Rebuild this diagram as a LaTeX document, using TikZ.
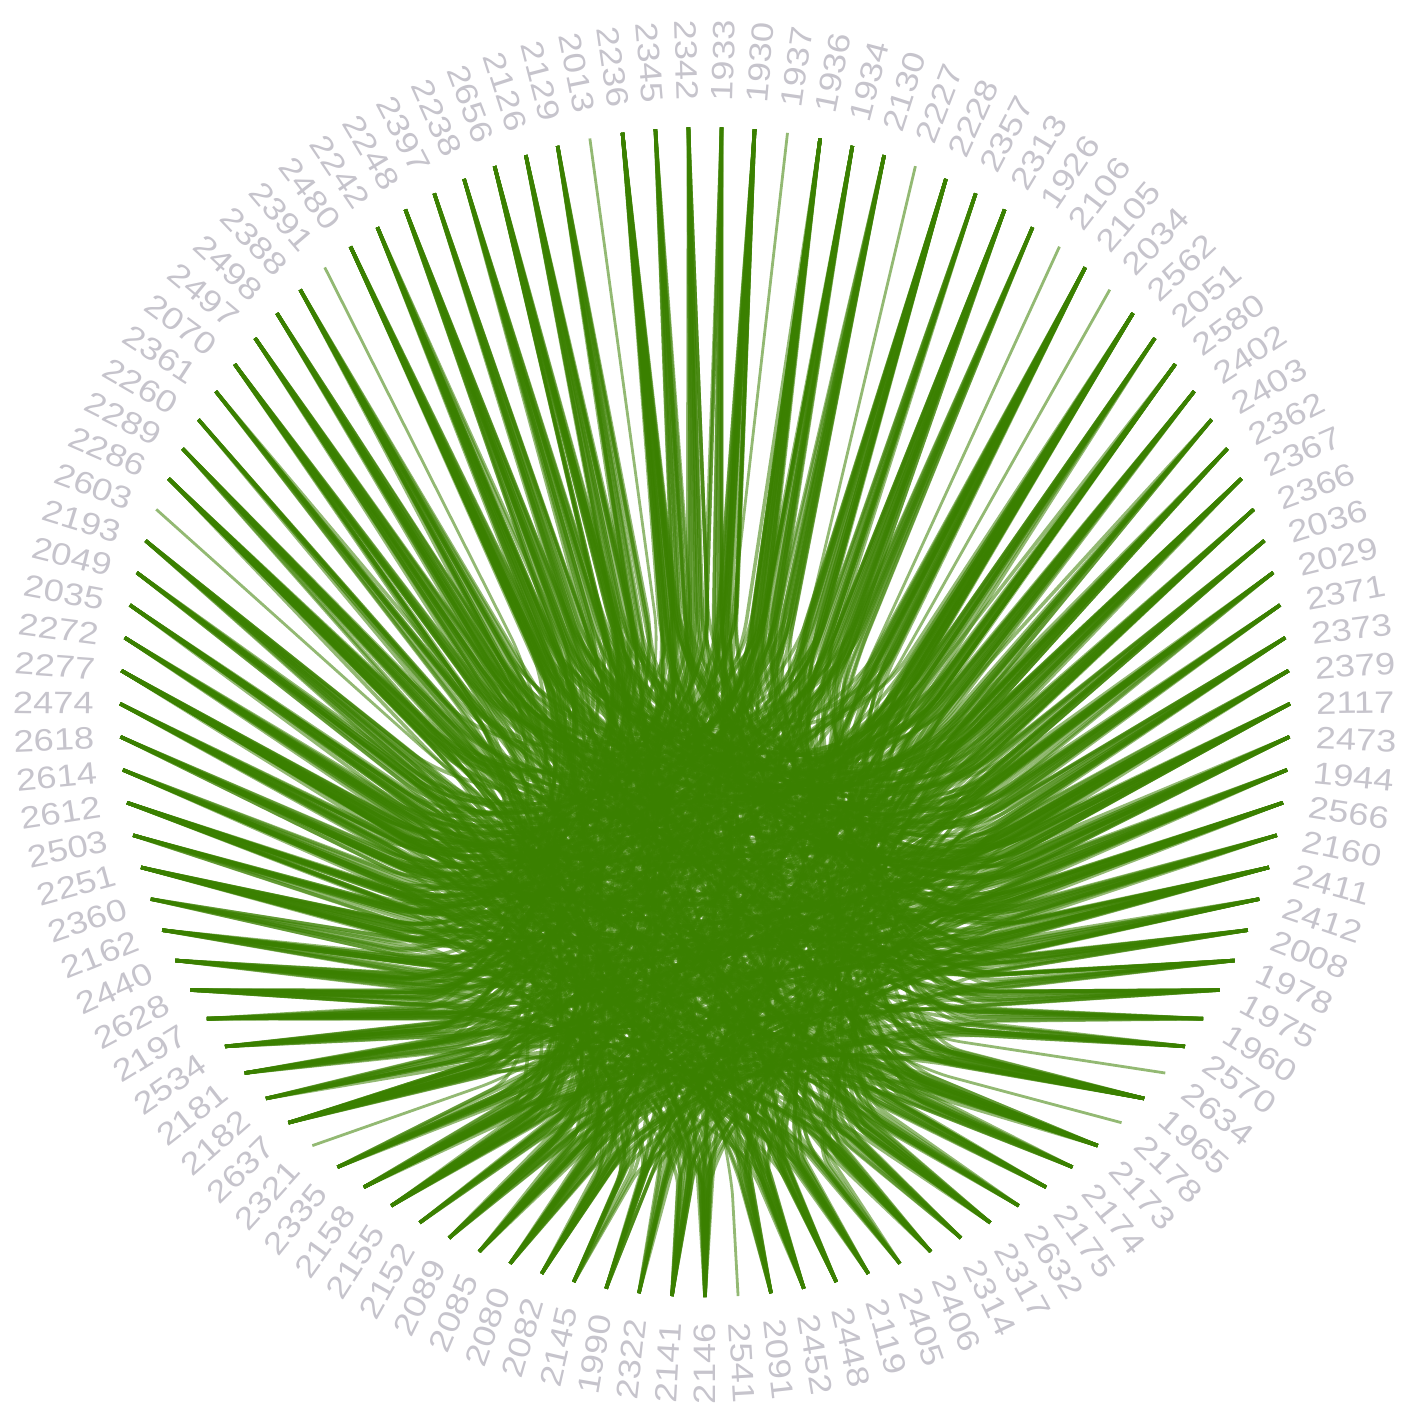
\documentclass[tikz,border=0pt]{standalone}
\usepackage{fontspec}
\usetikzlibrary{calc}
\newfontfamily\lblfont{Liberation Sans}[FakeStretch=1.17]
\definecolor{edgegreen}{RGB}{58,128,0}
\definecolor{lblgray}{RGB}{198,196,204}
\makeatletter
\newcommand\setlightflag[1]{\edef\tmp@lt{,#1,}\expandafter\in@\expandafter{\tmp@lt}{,2,6,11,13,39,41,54,68,89,98,107,}\ifin@\def\isLt{1}\else\def\isLt{0}\fi}
\makeatother
\begin{document}
\begin{tikzpicture}[x=0.5pt,y=0.5pt,
  edge/.style={draw=edgegreen, line width=1.75pt, draw opacity=0.55},
  lightedge/.style={draw=edgegreen, line width=1.4pt, draw opacity=0.55},
  lbl/.style={text=lblgray, font=\lblfont\fontsize{15.5pt}{18pt}\selectfont, inner sep=0pt}]
\useasboundingbox (-705,-708) rectangle (708,712);
\coordinate (F) at (0,-294);
% node positions and labels
\foreach \lab [count=\k from 0] in {1933,1930,1937,1936,1934,2130,2227,2228,2357,2313,1926,2106,2105,2034,2562,2051,2580,2402,2403,2362,2367,2366,2036,2029,2371,2373,2379,2117,2473,1944,2566,2160,2411,2412,2008,1978,1975,1960,2570,2634,1965,2178,2173,2174,2175,2632,2317,2314,2406,2405,2119,2448,2452,2091,2541,2146,2141,2322,1990,2145,2082,2080,2085,2089,2152,2155,2158,2335,2321,2637,2182,2181,2534,2197,2628,2440,2162,2360,2251,2503,2612,2614,2618,2474,2277,2272,2035,2049,2193,2603,2286,2289,2260,2361,2070,2497,2498,2388,2391,2480,2242,2248,2397,2238,2656,2126,2129,2013,2236,2345,2342}{
  \pgfmathsetmacro\ang{90-(\k+0.5)*3.243243}
  \coordinate (p\k) at (\ang:585);
  \ifnum\k<55
    \node[lbl, anchor=west, rotate=\ang] (t\k) at (\ang:611) {\lab};
  \else
    \node[lbl, anchor=east, rotate=\ang+180] (t\k) at (\ang:611) {\lab};
  \fi
}
% edges
\pgfmathsetseed{4242}
\foreach \k in {0,...,110}{
  \setlightflag{\k}
  \ifnum\isLt=1 \def\nd{1}\def\est{lightedge}\else\pgfmathrandominteger\nd{6}{11}\def\est{edge}\fi
  \pgfmathsetmacro\thk{(\k+0.5)*3.243243}
  \pgfmathsetmacro\dk{0.5*(319+111*cos(\thk)-34*cos(2*\thk))}
  \foreach \e in {1,...,\nd}{
    \pgfmathrandominteger\off{22}{89}
    \pgfmathtruncatemacro\j{mod(\k+\off,111)}
    \setlightflag{\j}
    \ifnum\isLt=1 \pgfmathtruncatemacro\j{mod(\j+1,111)}\fi
    \pgfmathsetmacro\thj{(\j+0.5)*3.243243}
    \pgfmathsetmacro\dj{0.5*(319+111*cos(\thj)-34*cos(2*\thj))}
    \pgfmathrandominteger\dx{-18}{18}
    \pgfmathrandominteger\dy{-18}{18}
    \coordinate (c) at ($(F)+(\dx,\dy)$);
    \coordinate (ak) at ($(c)!\dk pt!(p\k)$);
    \coordinate (aj) at ($(c)!\dj pt!(p\j)$);
    \draw[\est] (p\k) -- (ak) .. controls ($(ak)!0.35!(c)$) and ($(aj)!0.35!(c)$) .. (aj) -- (p\j);
  }
}
\end{tikzpicture}
\end{document}
